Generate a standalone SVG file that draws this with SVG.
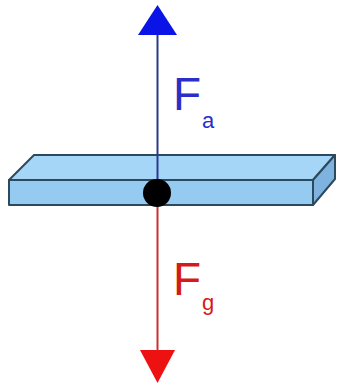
<svg xmlns="http://www.w3.org/2000/svg" width="337" height="384" viewBox="0 0 337 384">
<style>
.slab{stroke:#2c4a5e;stroke-width:2;stroke-linejoin:round}
.lbl{font-family:"Liberation Sans",Arial,sans-serif}
</style>
<rect width="337" height="384" fill="#ffffff"/>
<g id="slab">
<polygon class="slab" points="9,180 34,155 335,155 313,180" fill="#a6d6f7"/>
<polygon class="slab" points="313,180 335,155 335,179 313,205" fill="#7fb3df"/>
<rect class="slab" x="9" y="180" width="304" height="25" fill="#96cbf1"/>
</g>
<g id="connectors">
<line x1="157.5" y1="34" x2="157.5" y2="190" stroke="#2a3a8a" stroke-width="2"/>
<polygon points="157.5,5 138,35 177,35" fill="#0a14e6"/>
<line x1="157.5" y1="196" x2="157.5" y2="352" stroke="#c83030" stroke-width="2"/>
<polygon points="140,350 175,350 157.5,383" fill="#ee1111"/>
</g>
<g id="point">
<circle cx="157" cy="193" r="14" fill="#000000"/>
</g>
<g id="label-fa">
<text class="lbl" x="173" y="110" font-size="46" fill="#2a2fc8">F</text>
<text class="lbl" x="202" y="128" font-size="22" fill="#2a2fc8">a</text>
</g>
<g id="label-fg">
<text class="lbl" x="173" y="295" font-size="46" fill="#d61a1a">F</text>
<text class="lbl" x="202" y="310" font-size="22" fill="#d61a1a">g</text>
</g>
</svg>
